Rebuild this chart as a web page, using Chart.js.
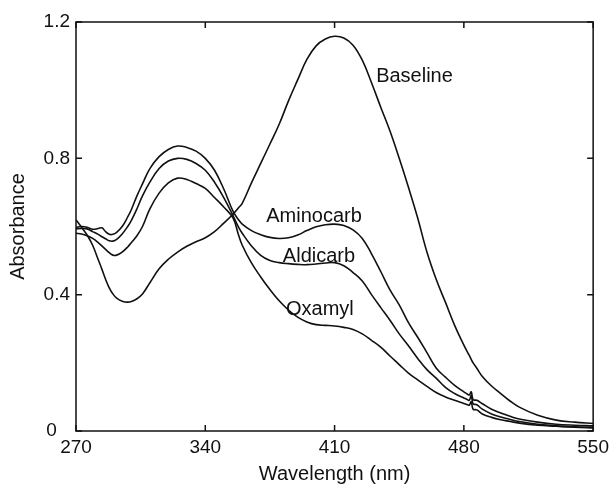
<!DOCTYPE html>
<html lang="en">
<head>
    <meta charset="UTF-8">
    <title>Absorbance spectra</title>
    <script src="https://cdn.jsdelivr.net/npm/chart.js"></script>
    <style>
        body {
            margin: 0;
            background: #fff;
        }
        #chartBox {
            width: 614px;
            height: 486px;
        }
    </style>
</head>
<body>
<div id="chartBox">
    <canvas id="spectraChart" width="614" height="486"></canvas>
</div>
<script>
// wavelengths (nm), shared by all four spectra
const wavelengths = [270, 273, 276, 279, 282, 284, 286, 288, 290, 292,
    295, 298, 300, 303, 306, 310, 315, 320, 325, 330,
    335, 340, 345, 350, 355, 358, 360, 365, 370, 375,
    380, 385, 390, 395, 400, 405, 410, 415, 420, 425,
    430, 435, 440, 445, 450, 455, 460, 465, 470, 475,
    480, 482, 483, 484, 485, 487, 490, 495, 500, 505,
    510, 520, 530, 540, 550];

const baseline = [0.620, 0.598, 0.575, 0.545, 0.503, 0.475, 0.445, 0.420, 0.402, 0.390,
    0.381, 0.378, 0.380, 0.388, 0.402, 0.435, 0.476, 0.504, 0.525, 0.542,
    0.555, 0.567, 0.585, 0.610, 0.636, 0.655, 0.668, 0.728, 0.785, 0.842,
    0.900, 0.968, 1.030, 1.090, 1.130, 1.150, 1.158, 1.153, 1.132, 1.088,
    1.022, 0.950, 0.880, 0.800, 0.715, 0.625, 0.525, 0.445, 0.378, 0.310,
    0.252, 0.231, 0.221, 0.210, 0.200, 0.184, 0.160, 0.132, 0.110, 0.088,
    0.070, 0.046, 0.032, 0.026, 0.022];

const aminocarb = [0.597, 0.600, 0.598, 0.592, 0.594, 0.596, 0.585, 0.577, 0.577, 0.583,
    0.600, 0.628, 0.650, 0.690, 0.725, 0.770, 0.805, 0.826, 0.836, 0.832,
    0.821, 0.800, 0.765, 0.710, 0.645, 0.620, 0.607, 0.588, 0.576, 0.568,
    0.565, 0.567, 0.575, 0.588, 0.599, 0.605, 0.607, 0.603, 0.590, 0.565,
    0.520, 0.468, 0.414, 0.370, 0.318, 0.275, 0.230, 0.185, 0.158, 0.134,
    0.115, 0.108, 0.106, 0.115, 0.092, 0.090, 0.080, 0.064, 0.053, 0.043,
    0.035, 0.026, 0.020, 0.017, 0.015];

const aldicarb = [0.593, 0.594, 0.593, 0.585, 0.577, 0.570, 0.564, 0.558, 0.557, 0.562,
    0.578, 0.600, 0.618, 0.652, 0.690, 0.730, 0.770, 0.792, 0.800, 0.797,
    0.785, 0.765, 0.730, 0.685, 0.632, 0.598, 0.580, 0.543, 0.515, 0.500,
    0.494, 0.491, 0.489, 0.488, 0.490, 0.493, 0.494, 0.485, 0.465, 0.440,
    0.400, 0.362, 0.325, 0.285, 0.250, 0.213, 0.180, 0.155, 0.128, 0.110,
    0.097, 0.092, 0.090, 0.104, 0.080, 0.077, 0.064, 0.050, 0.041, 0.034,
    0.028, 0.020, 0.015, 0.012, 0.010];

const oxamyl = [0.580, 0.578, 0.573, 0.565, 0.553, 0.543, 0.533, 0.523, 0.516, 0.516,
    0.525, 0.540, 0.553, 0.573, 0.600, 0.652, 0.698, 0.728, 0.742, 0.738,
    0.726, 0.712, 0.685, 0.657, 0.625, 0.575, 0.545, 0.493, 0.452, 0.415,
    0.382, 0.355, 0.334, 0.320, 0.312, 0.310, 0.308, 0.304, 0.298, 0.285,
    0.266, 0.246, 0.220, 0.195, 0.170, 0.150, 0.131, 0.113, 0.100, 0.090,
    0.081, 0.077, 0.076, 0.086, 0.064, 0.062, 0.050, 0.040, 0.033, 0.028,
    0.023, 0.017, 0.014, 0.011, 0.010];

// text labels placed next to the curves (wavelength, absorbance of the text baseline)
const curveNames = ['Baseline', 'Aminocarb', 'Aldicarb', 'Oxamyl'];
const nameX = [432.5, 373, 382, 383.7];
const nameY = [1.024, 0.613, 0.496, 0.340];

const xTicks = [270, 340, 410, 480, 550];
const yTicks = [0, 0.4, 0.8, 1.2];

const ink = '#111';
const fontFamily = '"Liberation Sans", Arial, Helvetica, sans-serif';

function toPoints(values) {
    return wavelengths.map((w, i) => ({x: w, y: values[i]}));
}

// box around the plot with inward ticks on all four sides
const frameTicks = {
    id: 'frameTicks',
    afterDraw(chart) {
        const ctx = chart.ctx;
        const a = chart.chartArea;
        const x = chart.scales.x;
        const y = chart.scales.y;
        const len = 6;
        ctx.save();
        ctx.strokeStyle = ink;
        ctx.lineWidth = 1.5;
        ctx.strokeRect(a.left, a.top, a.right - a.left, a.bottom - a.top);
        ctx.beginPath();
        xTicks.forEach(v => {
            const px = x.getPixelForValue(v);
            ctx.moveTo(px, a.bottom);
            ctx.lineTo(px, a.bottom - len);
            ctx.moveTo(px, a.top);
            ctx.lineTo(px, a.top + len);
        });
        yTicks.forEach(v => {
            const py = y.getPixelForValue(v);
            ctx.moveTo(a.left, py);
            ctx.lineTo(a.left + len, py);
            ctx.moveTo(a.right, py);
            ctx.lineTo(a.right - len, py);
        });
        ctx.stroke();
        ctx.restore();
    }
};

const nameLabels = {
    id: 'nameLabels',
    afterDatasetsDraw(chart) {
        const ctx = chart.ctx;
        const x = chart.scales.x;
        const y = chart.scales.y;
        ctx.save();
        ctx.fillStyle = ink;
        ctx.font = '20px ' + fontFamily;
        ctx.textAlign = 'left';
        ctx.textBaseline = 'alphabetic';
        curveNames.forEach((name, i) => {
            ctx.fillText(name, x.getPixelForValue(nameX[i]), y.getPixelForValue(nameY[i]));
        });
        ctx.restore();
    }
};

function lineSet(label, values) {
    return {
        label: label,
        data: toPoints(values),
        borderColor: ink,
        borderWidth: 1.6,
        pointRadius: 0,
        fill: false,
        tension: 0.4
    };
}

const ctx = document.getElementById('spectraChart').getContext('2d');
new Chart(ctx, {
    type: 'line',
    data: {
        datasets: [
            lineSet('Baseline', baseline),
            lineSet('Aminocarb', aminocarb),
            lineSet('Aldicarb', aldicarb),
            lineSet('Oxamyl', oxamyl)
        ]
    },
    options: {
        responsive: false,
        animation: false,
        devicePixelRatio: 1,
        layout: {
            padding: {left: 0, top: 22, right: 16, bottom: 0}
        },
        plugins: {
            legend: {display: false},
            tooltip: {enabled: false}
        },
        scales: {
            x: {
                type: 'linear',
                min: 270,
                max: 550,
                afterBuildTicks: s => { s.ticks = xTicks.map(v => ({value: v})); },
                afterFit: s => { s.height = 55; },
                grid: {display: false, drawTicks: false},
                border: {display: false},
                ticks: {
                    padding: 5,
                    color: ink,
                    maxRotation: 0,
                    font: {family: fontFamily, size: 19}
                },
                title: {
                    display: true,
                    text: 'Wavelength (nm)',
                    color: ink,
                    padding: {top: 0, bottom: 0},
                    font: {family: fontFamily, size: 20}
                }
            },
            y: {
                min: 0,
                max: 1.2,
                afterBuildTicks: s => { s.ticks = yTicks.map(v => ({value: v})); },
                afterFit: s => { s.width = 76; },
                grid: {display: false, drawTicks: false},
                border: {display: false},
                ticks: {
                    padding: 6,
                    color: ink,
                    font: {family: fontFamily, size: 19},
                    // the zero label sits a little further left in the original
                    callback: v => v === 0 ? '0\u2002\u2009' : String(v)
                },
                title: {
                    display: true,
                    text: 'Absorbance',
                    color: ink,
                    padding: {top: 6, bottom: 0},
                    font: {family: fontFamily, size: 20}
                }
            }
        }
    },
    plugins: [frameTicks, nameLabels]
});
</script>
</body>
</html>
